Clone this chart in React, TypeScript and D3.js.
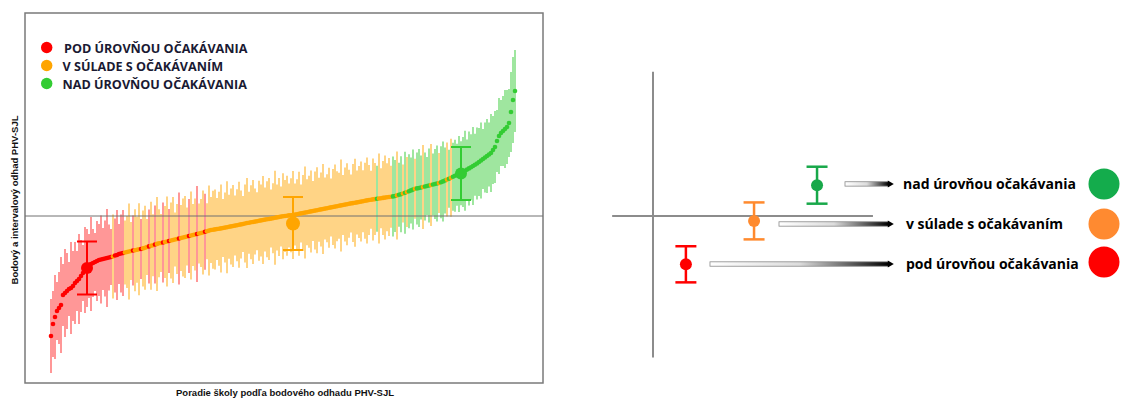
import * as d3 from "d3";
import { useEffect, useRef } from "react";

// point estimates of PHV-SJL, schools ordered by rank
const estimates = [
  -12.0, -10.8, -10.1, -9.5, -9.2, -8.9, -7.9, -7.7, -7.5, -7.3, -7.2, -7.0,
  -6.7, -6.5, -6.3, -6.0, -5.7, -5.4, -5.2, -5.0, -4.8, -4.7, -4.6, -4.5,
  -4.4, -4.35, -4.3, -4.25, -4.2, -4.15, -4.1, -4.05, -3.95, -3.9, -3.8, -3.75,
  -3.7, -3.65, -3.6, -3.55, -3.5, -3.45, -3.42, -3.38, -3.33, -3.3, -3.24, -3.18,
  -3.1, -3.04, -2.98, -2.92, -2.85, -2.79, -2.73, -2.7, -2.65, -2.6, -2.55, -2.5,
  -2.45, -2.4, -2.35, -2.3, -2.25, -2.2, -2.15, -2.1, -2.05, -2.0, -1.95, -1.9,
  -1.85, -1.8, -1.75, -1.7, -1.65, -1.58, -1.52, -1.46, -1.4, -1.37, -1.34, -1.3,
  -1.27, -1.24, -1.2, -1.16, -1.12, -1.08, -1.04, -1.0, -0.96, -0.92, -0.88, -0.84,
  -0.8, -0.75, -0.7, -0.67, -0.63, -0.6, -0.56, -0.52, -0.48, -0.44, -0.4, -0.36,
  -0.33, -0.3, -0.26, -0.22, -0.18, -0.14, -0.1, -0.06, -0.03, 0.0, 0.03, 0.06,
  0.08, 0.1, 0.14, 0.18, 0.22, 0.26, 0.3, 0.34, 0.38, 0.42, 0.46, 0.5,
  0.54, 0.58, 0.62, 0.66, 0.7, 0.74, 0.78, 0.82, 0.86, 0.9, 0.94, 0.98,
  1.02, 1.06, 1.1, 1.14, 1.18, 1.22, 1.26, 1.29, 1.32, 1.36, 1.4, 1.44,
  1.48, 1.52, 1.56, 1.6, 1.63, 1.66, 1.69, 1.72, 1.75, 1.78, 1.81, 1.84,
  1.87, 1.9, 1.93, 1.96, 2.0, 2.06, 2.12, 2.18, 2.25, 2.32, 2.4, 2.48,
  2.56, 2.64, 2.72, 2.76, 2.8, 2.85, 2.9, 2.95, 3.0, 3.05, 3.1, 3.15,
  3.2, 3.25, 3.3, 3.38, 3.46, 3.55, 3.64, 3.73, 3.82, 3.92, 4.02, 4.12,
  4.2, 4.28, 4.4, 4.52, 4.64, 4.76, 4.88, 5.0, 5.12, 5.25, 5.4, 5.55,
  5.7, 5.85, 6.0, 6.15, 6.3, 6.6, 6.9, 7.5, 8.0, 8.3, 8.5, 8.7,
  8.9, 9.3, 10.4, 11.6, 12.5,
];

// half length of each school's interval
const halfWidths = [
  3.7, 3.3, 4.2, 2.9, 3.6, 4.8, 3.1, 4.4, 3.8, 2.7, 4.6, 3.5,
  4.1, 3.0, 4.5, 3.6, 2.8, 4.3, 3.9, 3.2, 4.7, 3.4, 2.9, 4.0,
  3.6, 4.4, 3.1, 3.8, 4.9, 3.3, 2.8, 4.2, 3.7, 4.5, 3.0, 3.9,
  4.3, 3.2, 3.6, 4.8, 2.9, 3.5, 4.1, 3.3, 4.6, 3.0, 3.8, 4.2,
  2.8, 3.7, 4.4, 3.1, 3.9, 4.7, 3.4, 2.9, 4.0, 3.6, 4.5, 3.2,
  3.8, 4.3, 2.7, 3.5, 4.6, 3.3, 3.9, 4.1, 2.9, 3.7, 4.4, 3.1,
  3.6, 4.8, 3.0, 3.4, 4.2, 3.8, 2.8, 4.5, 3.3, 3.9, 4.0, 3.1,
  3.7, 4.4, 2.9, 3.5, 4.6, 3.2, 3.8, 4.1, 3.0, 3.6, 4.3, 3.4,
  2.8, 3.9, 4.5, 3.1, 3.7, 4.2, 3.3, 2.9, 4.0, 3.6, 4.4, 3.2,
  3.8, 4.1, 2.9, 3.5, 4.7, 3.3, 3.9, 3.0, 4.3, 3.6, 4.0, 3.2,
  3.7, 4.4, 3.1, 3.5, 4.2, 2.9, 3.8, 4.6, 3.3, 3.6, 4.1, 3.0,
  3.9, 4.3, 3.2, 3.7, 4.5, 3.1, 3.4, 4.0, 2.9, 3.8, 4.2, 3.5,
  3.3, 4.6, 3.0, 3.7, 4.1, 3.4, 2.9, 3.9, 4.4, 3.2, 3.6, 4.0,
  3.1, 3.8, 4.3, 3.5, 2.9, 4.1, 3.6, 3.3, 4.5, 3.0, 3.7, 4.2,
  3.4, 3.9, 3.1, 4.0, 3.6, 4.4, 3.2, 3.8, 2.9, 4.1, 3.5, 3.7,
  3.3, 4.0, 3.0, 3.6, 3.9, 3.2, 4.2, 3.4, 2.9, 3.7, 4.1, 3.1,
  3.5, 3.8, 3.0, 3.6, 4.0, 3.3, 3.7, 2.9, 3.9, 3.4, 3.6, 3.1,
  3.8, 3.2, 3.5, 4.0, 3.0, 3.7, 3.3, 3.9, 3.1, 3.6, 3.4, 3.8,
  3.0, 3.5, 3.7, 3.2, 3.9, 3.4, 3.6, 3.1, 3.8, 3.3, 3.5, 3.9,
  3.7, 3.4, 4.0, 4.3, 4.1,
];

// r = below, o = as expected, g = above (runs along the rank)
const categoryRuns: [string, number][] = [
  ["r", 31], ["o", 1], ["r", 5], ["o", 4], ["r", 1], ["o", 3], ["r", 1], ["o", 3],
  ["r", 1], ["o", 2], ["r", 1], ["o", 3], ["r", 1], ["o", 2], ["r", 1], ["o", 4],
  ["r", 1], ["o", 4], ["r", 1], ["o", 3], ["r", 1], ["o", 3], ["r", 1], ["o", 85],
  ["g", 1], ["o", 7], ["g", 2], ["o", 1], ["g", 2], ["o", 1], ["g", 1], ["o", 1],
  ["g", 3], ["o", 1], ["g", 3], ["o", 1], ["g", 3], ["o", 1], ["g", 3], ["o", 1],
  ["g", 3], ["o", 1], ["g", 1], ["o", 1], ["g", 32],
];

const legendLabels = ["POD ÚROVŇOU OČAKÁVANIA", "V SÚLADE S OČAKÁVANÍM", "NAD ÚROVŇOU OČAKÁVANIA"];
const legendKeys = ["r", "o", "g"];

// highlighted example schools with capped intervals
const featuredIndex = [18, 121, 205];
const featuredValue = [-5.2, -0.75, 4.25];
const featuredHalf = [2.65, 2.65, 2.65];
const featuredKeys = ["r", "o", "g"];

// schematic on the right
const schemeLabels = ["pod úrovňou očakávania", "v súlade s očakávaním", "nad úrovňou očakávania"];
const schemeX = [1.53, 4.7, 7.63];
const schemeY = [-3.45, -0.35, 2.2];
const schemeHalf = [1.29, 1.32, 1.32];
const schemeArrowFrom = [2.65, 5.86, 8.93];
const schemeArrowY = [-3.43, -0.57, 2.29];
const schemeColors = ["#ff0000", "#ff8a2e", "#18a84a"];
const badgeColors = ["#ff0000", "#ff8a30", "#14ac4c"];

const dotColor: Record<string, string> = { r: "#ff0000", o: "#ffa500", g: "#33cc33" };
const barColor: Record<string, string> = { r: "#ff4040", o: "#ffb020", g: "#4fd24f" };

export default function App() {
  const ref = useRef<SVGSVGElement>(null);

  useEffect(() => {
    if (!ref.current) return;
    const svg = d3.select(ref.current);
    svg.selectAll("*").remove();

    const W = 1122;
    const H = 398;
    svg.attr("width", W).attr("height", H).attr("viewBox", `0 0 ${W} ${H}`);

    const categories: string[] = categoryRuns.flatMap(([c, n]) => Array(n).fill(c));
    const schools = estimates.map((v, i) => ({ i, v, h: halfWidths[i], c: categories[i] }));

    // ---- left chart ----
    const frame = { left: 25, top: 13, right: 543, bottom: 383 };
    const x = d3.scaleLinear().domain([0, estimates.length - 1]).range([51, 515]);
    const y = d3.scaleLinear().domain([-16.7, 20.3]).range([frame.bottom, frame.top]);

    svg.append("rect")
      .attr("x", frame.left).attr("y", frame.top)
      .attr("width", frame.right - frame.left).attr("height", frame.bottom - frame.top)
      .attr("fill", "none").attr("stroke", "#7a7a7a").attr("stroke-width", 1.5);

    svg.append("g").selectAll("line")
      .data(schools)
      .join("line")
      .attr("x1", d => x(d.i)).attr("x2", d => x(d.i))
      .attr("y1", d => y(d.v - d.h)).attr("y2", d => y(d.v + d.h))
      .attr("stroke", d => barColor[d.c])
      .attr("stroke-width", 1.5)
      .attr("opacity", 0.72);

    svg.append("line")
      .attr("x1", frame.left).attr("x2", frame.right)
      .attr("y1", y(0)).attr("y2", y(0))
      .attr("stroke", "#707070").attr("stroke-width", 1);

    svg.append("g").selectAll("circle")
      .data(schools)
      .join("circle")
      .attr("cx", d => x(d.i)).attr("cy", d => y(d.v))
      .attr("r", 2.3)
      .attr("fill", d => dotColor[d.c]);

    const feat = svg.append("g");
    featuredIndex.forEach((idx, k) => {
      const cx = x(idx);
      const col = dotColor[featuredKeys[k]];
      const lo = y(featuredValue[k] - featuredHalf[k]);
      const hi = y(featuredValue[k] + featuredHalf[k]);
      feat.append("line").attr("x1", cx).attr("x2", cx).attr("y1", lo).attr("y2", hi)
        .attr("stroke", col).attr("stroke-width", 2);
      [lo, hi].forEach(yy => {
        feat.append("line").attr("x1", cx - 10).attr("x2", cx + 10).attr("y1", yy).attr("y2", yy)
          .attr("stroke", col).attr("stroke-width", 2);
      });
      feat.append("circle").attr("cx", cx).attr("cy", y(featuredValue[k])).attr("r", k === 1 ? 7 : 6)
        .attr("fill", col);
    });

    const legend = svg.append("g");
    legendLabels.forEach((lab, k) => {
      const ly = 47.5 + k * 18;
      legend.append("circle").attr("cx", 46.7).attr("cy", ly).attr("r", 5.7).attr("fill", dotColor[legendKeys[k]]);
      legend.append("text")
        .attr("x", k === 0 ? 64 : 62.5).attr("y", ly + 5)
        .attr("font-family", "Open Sans, sans-serif").attr("font-weight", 700).attr("font-size", 12.6)
        .attr("fill", "#1a1a33")
        .text(lab);
    });

    svg.append("text")
      .attr("transform", `translate(18,200) rotate(-90)`)
      .attr("text-anchor", "middle")
      .attr("font-family", "Liberation Sans, Arial, sans-serif").attr("font-weight", 700).attr("font-size", 9.5)
      .attr("fill", "#111")
      .text("Bodový a intervalový odhad PHV-SJL");

    svg.append("text")
      .attr("x", 285).attr("y", 396)
      .attr("text-anchor", "middle")
      .attr("font-family", "Liberation Sans, Arial, sans-serif").attr("font-weight", 700).attr("font-size", 9.5)
      .attr("fill", "#111")
      .text("Poradie školy podľa bodového odhadu PHV-SJL");

    // ---- schematic ----
    const sx = d3.scaleLinear().domain([0, 10]).range([653, 868]);
    const sy = d3.scaleLinear().domain([-10, 10]).range([356, 76]);

    const defs = svg.append("defs");
    const grad = defs.append("linearGradient").attr("id", "arrowGrad").attr("x1", "0").attr("x2", "1").attr("y1", "0").attr("y2", "0");
    grad.append("stop").attr("offset", "0%").attr("stop-color", "#ffffff");
    grad.append("stop").attr("offset", "50%").attr("stop-color", "#dcdcdc");
    grad.append("stop").attr("offset", "100%").attr("stop-color", "#000000");

    const scheme = svg.append("g");
    scheme.append("line").attr("x1", sx(0)).attr("x2", sx(0)).attr("y1", sy(10.3)).attr("y2", sy(-10.1))
      .attr("stroke", "#8c8c8c").attr("stroke-width", 2);
    scheme.append("line").attr("x1", sx(-1.9)).attr("x2", sx(10.23)).attr("y1", sy(0)).attr("y2", sy(0))
      .attr("stroke", "#8c8c8c").attr("stroke-width", 2);

    const tip = sx(11.2);
    schemeLabels.forEach((lab, k) => {
      const cx = sx(schemeX[k]);
      const col = schemeColors[k];
      const lo = sy(schemeY[k] - schemeHalf[k]);
      const hi = sy(schemeY[k] + schemeHalf[k]);
      scheme.append("line").attr("x1", cx).attr("x2", cx).attr("y1", lo).attr("y2", hi)
        .attr("stroke", col).attr("stroke-width", 2.5);
      [lo, hi].forEach(yy => {
        scheme.append("line").attr("x1", cx - 10.5).attr("x2", cx + 10.5).attr("y1", yy).attr("y2", yy)
          .attr("stroke", col).attr("stroke-width", 2.5);
      });
      scheme.append("circle").attr("cx", cx).attr("cy", sy(schemeY[k])).attr("r", 6).attr("fill", col);

      const ay = sy(schemeArrowY[k]);
      const ax = sx(schemeArrowFrom[k]);
      scheme.append("rect").attr("x", ax).attr("y", ay - 2.2).attr("width", tip - 5 - ax).attr("height", 4.4)
        .attr("fill", "url(#arrowGrad)").attr("stroke", "#8a8a8a").attr("stroke-width", 0.8);
      scheme.append("path")
        .attr("d", `M${tip - 6},${ay - 3.5} L${tip},${ay} L${tip - 6},${ay + 3.5} Z`)
        .attr("fill", "#000");

      scheme.append("text")
        .attr("x", k === 2 ? 903 : 906).attr("y", ay + 5)
        .attr("font-family", "Open Sans, sans-serif").attr("font-weight", 700).attr("font-size", 14)
        .attr("fill", "#000")
        .text(lab);

      scheme.append("circle").attr("cx", 1104).attr("cy", ay - (k === 0 ? 2 : 0)).attr("r", 15.5).attr("fill", badgeColors[k]);
    });
  }, []);

  return (
    <div style={{ position: "absolute", left: 0, top: 0, background: "#fff" }}>
      <svg ref={ref} style={{ display: "block" }} />
    </div>
  );
}
